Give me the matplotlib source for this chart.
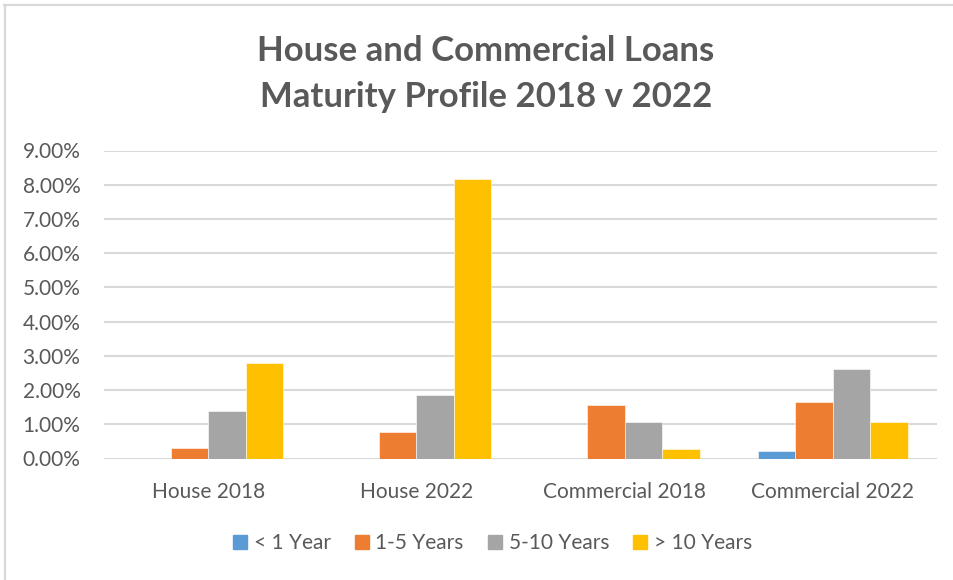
import numpy as np
import matplotlib
matplotlib.use("Agg")
import matplotlib.pyplot as plt
from matplotlib.lines import Line2D
from matplotlib.ticker import FuncFormatter

plt.rcParams['font.family'] = ['Lato', 'DejaVu Sans']

# data (percent)
categories = ["House 2018", "House 2022", "Commercial 2018", "Commercial 2022"]
series_names = ["< 1 Year", "1-5 Years", "5-10 Years", "> 10 Years"]
lt_1_year = [0.0, 0.0, 0.0, 0.21]
yrs_1_5 = [0.32, 0.77, 1.56, 1.64]
yrs_5_10 = [1.38, 1.86, 1.07, 2.62]
gt_10_years = [2.80, 8.16, 0.29, 1.07]
yticks = [0, 1, 2, 3, 4, 5, 6, 7, 8, 9]

colors = ["#5B9BD5", "#ED7D31", "#A5A5A5", "#FFC000"]
text_col = "#595959"
grid_col = "#D9D9D9"

fig = plt.figure(figsize=(9.54, 5.8), dpi=100)
ax = fig.add_axes([104 / 954, 1 - 458.5 / 580, (937 - 104) / 954, 308 / 580])

x = np.arange(len(categories))
width = 0.18
all_series = [lt_1_year, yrs_1_5, yrs_5_10, gt_10_years]
for i, vals in enumerate(all_series):
    ax.bar(x + (i - 1.5) * width, vals, width, color=colors[i],
           edgecolor="white", linewidth=0.4, zorder=3, label=series_names[i])

ax.set_xlim(-0.5, len(categories) - 0.5)
ax.set_ylim(0, 9)
ax.set_yticks(yticks)
ax.yaxis.set_major_formatter(FuncFormatter(lambda v, p: "%.2f%%" % v))
ax.set_xticks(x)
ax.set_xticklabels(categories)
ax.grid(axis="y", color=grid_col, linewidth=1.5, zorder=0)
ax.tick_params(axis="both", length=0, labelsize=15, colors=text_col)
ax.tick_params(axis="y", pad=17)
ax.tick_params(axis="x", pad=17)
for s in ax.spines.values():
    s.set_visible(False)

fig.text(486 / 954, 1 - 51 / 580, "House and Commercial Loans", ha="center", va="center",
         fontsize=25, fontweight="bold", color=text_col)
fig.text(486 / 954, 1 - 97 / 580, "Maturity Profile 2018 v 2022", ha="center", va="center",
         fontsize=25, fontweight="bold", color=text_col)

handles = [Line2D([], [], marker="s", linestyle="none", markersize=9.5,
                  markerfacecolor=c, markeredgecolor=c) for c in colors]
fig.legend(handles, series_names, loc="center", bbox_to_anchor=(492 / 954, 1 - 543 / 580),
           ncol=4, frameon=False, fontsize=15, labelcolor=text_col,
           handlelength=0.8, handletextpad=0.25, columnspacing=1.1)

# light border of the chart area
fig.add_artist(Line2D([4 / 954, 1], [1 - 5 / 580, 1 - 5 / 580], color=grid_col, lw=1.6,
                      transform=fig.transFigure))
fig.add_artist(Line2D([5 / 954, 5 / 954], [0, 1 - 5 / 580], color=grid_col, lw=1.6,
                      transform=fig.transFigure))

fig.savefig("out.png", dpi=100)
